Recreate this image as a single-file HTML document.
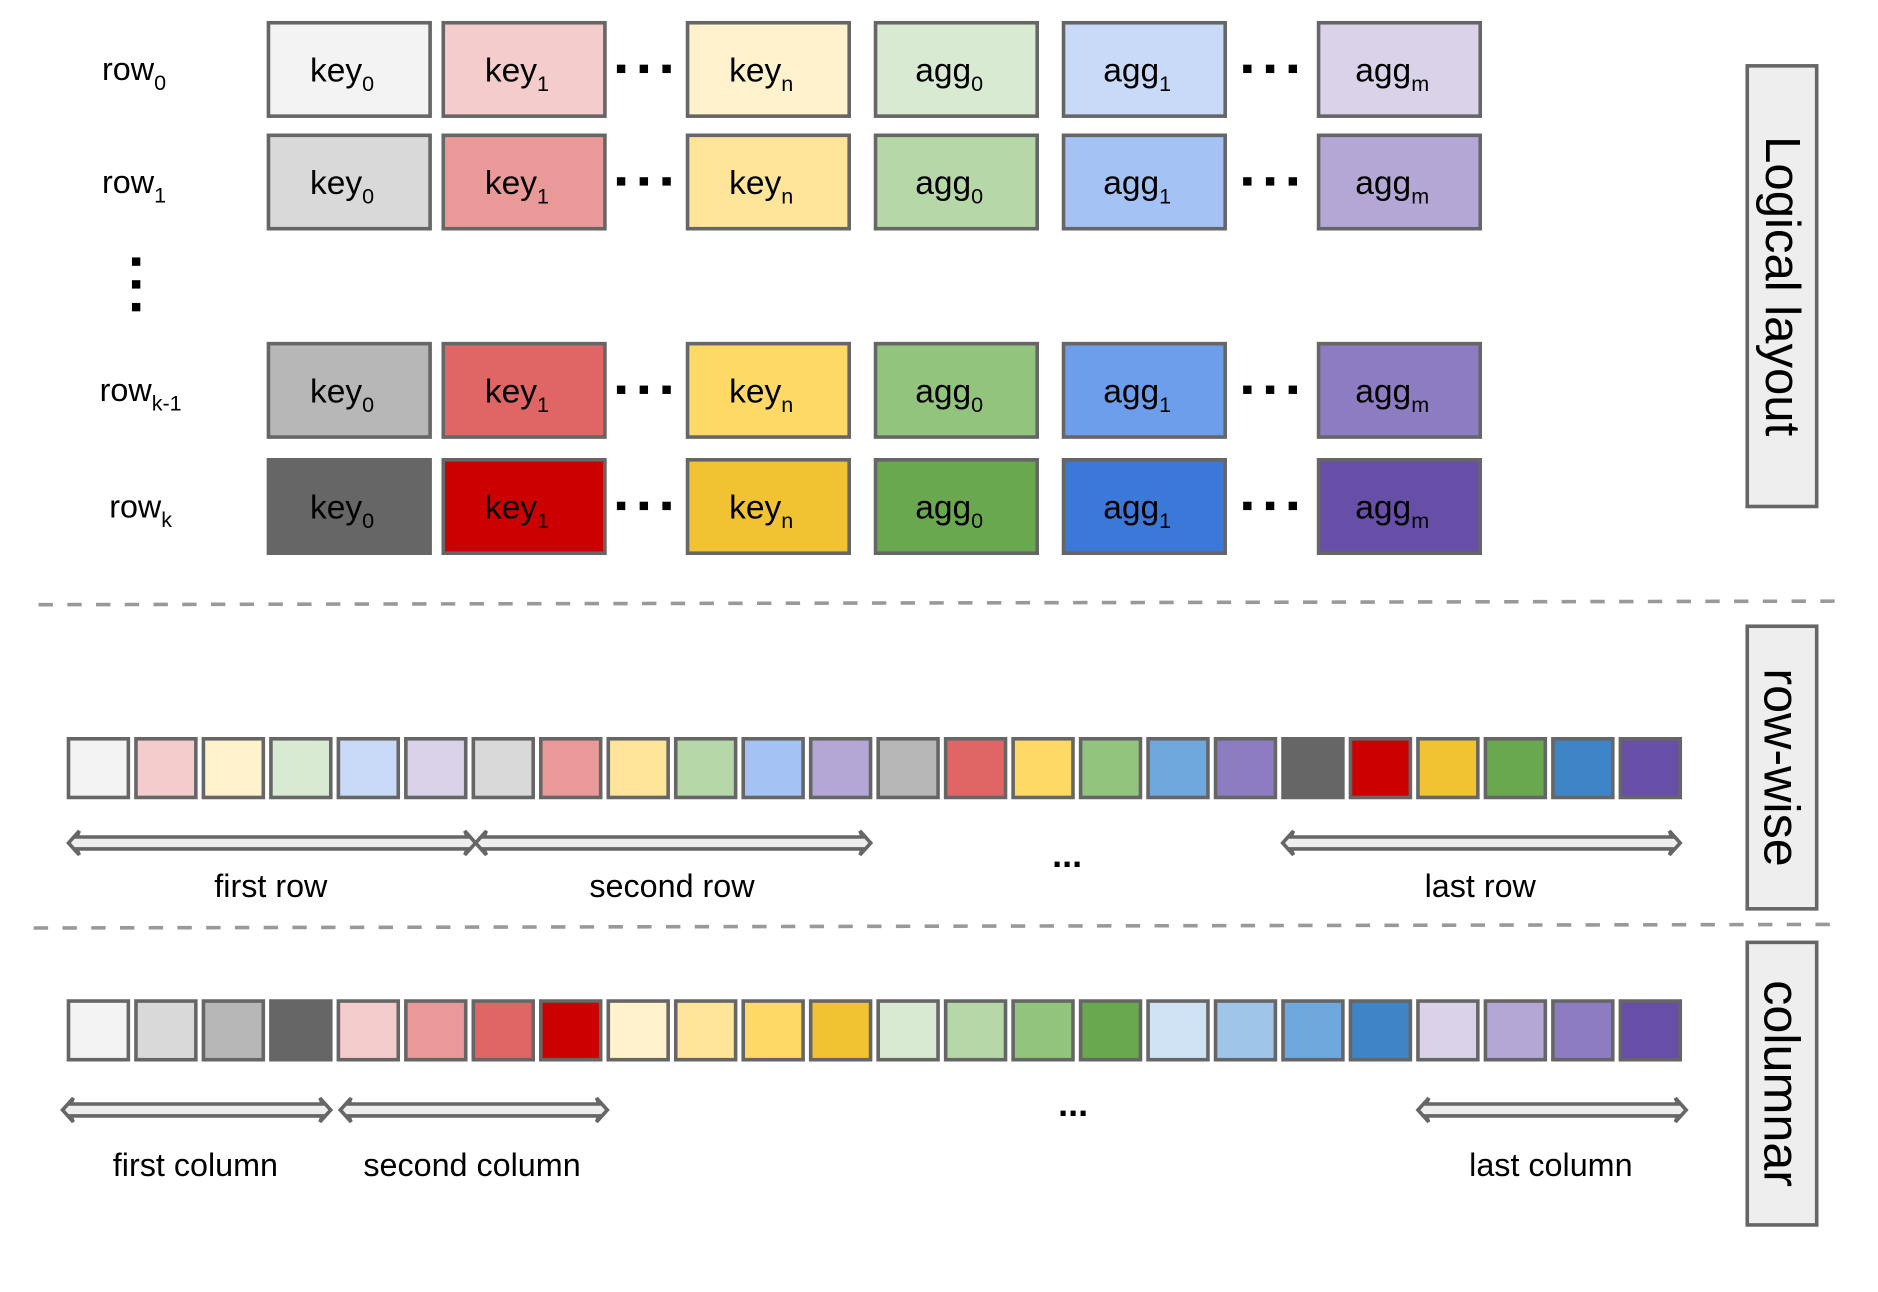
<!DOCTYPE html>
<html><head><meta charset="utf-8"><style>
html,body{margin:0;padding:0;background:#fff;}
svg{display:block;font-family:"Liberation Sans",sans-serif;}
</style></head><body>
<svg id="fig" width="1878" height="1292" viewBox="0 0 1568 1079" xmlns="http://www.w3.org/2000/svg">
<g id="g"></g>
</svg>
<script>
// colour families (light -> dark shade): key0, key1, keyn, agg0, agg1, aggm
const families = ['key0','key1','keyn','agg0','agg1','aggm'];
const gray   = ['#f3f3f3','#d9d9d9','#b7b7b7','#666666'];
const red    = ['#f4cccc','#ea9999','#e06666','#cc0000'];
const yellow = ['#fff2cc','#ffe599','#ffd966','#f1c232'];
const green  = ['#d9ead3','#b6d7a8','#93c47d','#6aa84f'];
const blue   = ['#c9daf8','#a4c2f4','#6d9eeb','#3c78d8'];
const blueRow= ['#c9daf8','#a4c2f4','#6fa8dc','#3d85c6'];
const blue2  = ['#cfe2f3','#9fc5e8','#6fa8dc','#3d85c6'];
const purple = ['#d9d2e9','#b4a7d6','#8e7cc3','#674ea7'];
const logicalPalette = [gray,red,yellow,green,blue,purple];
const rowPalette = [gray,red,yellow,green,blueRow,purple];
const colPalette = [gray,red,yellow,green,blue2,purple];
const boxNames = ['key','key','key','agg','agg','agg'];
const boxSubs = ['0','1','n','0','1','m'];
const rowLabels = ['0','1','k-1','k'];

const NS='http://www.w3.org/2000/svg';
const g=document.getElementById('g');
function el(tag,attrs,parent){const e=document.createElementNS(NS,tag);for(const k in attrs)e.setAttribute(k,attrs[k]);(parent||g).appendChild(e);return e;}

// logical layout
const colX=[224,370,574,731,888,1101], boxW=135, rowY=[19,113,287,384], boxH=78;
rowLabels.forEach((lab,r)=>{
  const t=el('text',{x:r===2?83:(r===3?91:85),y:rowY[r]+48,'font-size':27,fill:'#000'});
  
  
  t.textContent='row';
  const s=el('tspan',{'font-size':18,dy:8},t); s.textContent=lab;
  families.forEach((f,c)=>{
    const rc=el('rect',{x:colX[c],y:rowY[r],width:boxW,height:boxH,fill:logicalPalette[c][r],stroke:'#666',  'stroke-width':3});
    
    
    const tx=el('text',{x:colX[c]+boxW/2-6,y:rowY[r]+49,'font-size':28,'text-anchor':'middle',fill:'#000'});
    
    
    tx.textContent=boxNames[c];
    const ts=el('tspan',{'font-size':18,dy:8},tx); ts.textContent=boxSubs[c];
  });
  [515,1038].forEach(dx=>{for(let i=0;i<3;i++){el('rect',{x:dx+i*19,y:rowY[r]+35,width:7,height:7,fill:'#000'});}});
});
for(let i=0;i<3;i++) el('rect',{x:110,y:215+i*19,width:7,height:7,fill:'#000'});

// side boxes
function sideBox(y1,y2,label,name,fs){
  const r=el('rect',{x:1459,y:y1,width:58,height:y2-y1,fill:'#eeeeee',stroke:'#666','stroke-width':3});
  
  
  const cy=(y1+y2)/2;
  const t=el('text',{x:1488,y:cy,'font-size':fs,'text-anchor':'middle','dominant-baseline':'central',transform:'rotate(90 1488 '+cy+')',fill:'#000'});
  
  
  t.textContent=label;
}
sideBox(55,423,'Logical layout','logical-layout',41);
sideBox(523,759,'row-wise','row-wise',42);
sideBox(787,1023,'columnar','columnar',42);

// dashed separators
const d1=el('line',{x1:32,y1:505,x2:1542,y2:502,stroke:'#999','stroke-width':3,'stroke-dasharray':'12 12'});


const d2=el('line',{x1:28,y1:775,x2:1540,y2:772,stroke:'#999','stroke-width':3,'stroke-dasharray':'12 12'});



// storage bars
const cellPitch=56.35, cellW=50, barX=57;
function bar(y,colors,name){
  colors.forEach((c,i)=>{
    const r=el('rect',{x:barX+i*cellPitch,y:y,width:cellW,height:49,fill:c,stroke:'#666','stroke-width':3});
    
    
  });
}
const rowWise=[]; for(let r=0;r<4;r++) for(let c=0;c<6;c++) rowWise.push(rowPalette[c][r]);
const columnar=[]; for(let c=0;c<6;c++) for(let r=0;r<4;r++) columnar.push(colPalette[c][r]);
bar(617,rowWise,'row-wise');
bar(836,columnar,'columnar');

// double arrows
function arrow(x1,x2,y,name){
  const h=5,H=10,L=9;
  const p=[[x1,y],[x1+L,y-H],[x1+L-2,y-h],[x2-L+2,y-h],[x2-L,y-H],[x2,y],[x2-L,y+H],[x2-L+2,y+h],[x1+L-2,y+h],[x1+L,y+H]];
  const a=el('polygon',{points:p.map(q=>q.join(',')).join(' '),fill:'#eeeeee',stroke:'#666','stroke-width':3,'stroke-linejoin':'miter'});
  
  
}
function label(x,y,txt,name,fs,fw){
  const t=el('text',{x:x,y:y,'font-size':fs||27,'font-weight':fw||'normal','text-anchor':'middle',fill:'#000'});
  
  
  t.textContent=txt;
}
arrow(57,397,704,'first-row-arrow'); arrow(397,727,704,'second-row-arrow'); arrow(1071,1403,704,'last-row-arrow');
label(226,749,'first row','first-row-label'); label(561,749,'second row','second-row-label'); label(1236,749,'last row','last-row-label');
label(891,724,'...','row-ellipsis',30,'bold');
arrow(52,276,927,'first-column-arrow'); arrow(284,507,927,'second-column-arrow'); arrow(1184,1408,927,'last-column-arrow');
label(163,982,'first column','first-column-label'); label(394,982,'second column','second-column-label'); label(1295,982,'last column','last-column-label');
label(896,932,'...','column-ellipsis',30,'bold');
</script>
</body></html>
